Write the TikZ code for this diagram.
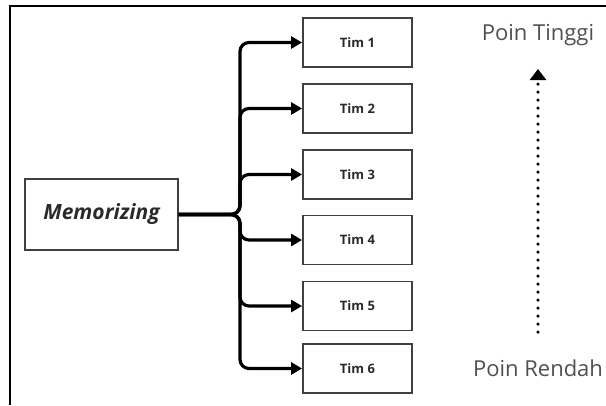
\documentclass[tikz,border=0pt]{standalone}
\usepackage{fontspec}
\setmainfont{Open Sans}
\usetikzlibrary{arrows.meta}
\definecolor{boxline}{HTML}{404040}
\definecolor{txt}{HTML}{2A2A2A}
\definecolor{soft}{HTML}{505050}
\tikzset{
  timbox/.style={draw=boxline, line width=1.8pt, minimum width=109pt, minimum height=49pt, inner sep=0pt, font=\fontsize{13}{15}\selectfont\bfseries, text=txt},
  membox/.style={draw=boxline, line width=1.8pt, minimum width=153pt, minimum height=71pt, inner sep=0pt, font=\fontsize{21}{24}\selectfont\bfseries\itshape, text=txt},
  branch/.style={line width=3.2pt, rounded corners=9pt, -{Triangle[length=11pt,width=12pt]}},
  poin/.style={font=\fontsize{22}{25}\selectfont, text=soft, inner sep=0pt},
  dotarrow/.style={line width=3.5pt, line cap=round, dash pattern=on 0pt off 8pt, -{Triangle[length=11pt,width=16pt]}}
}
\begin{document}
\begin{tikzpicture}[x=1pt,y=-1pt]
\useasboundingbox (0,0) rectangle (606,405);
% frame (only top and left edges visible)
\draw[line width=2.2pt] (606,6) -- (10,6) -- (10,405);
% nodes
\node[membox] (mem) at (101.5,214.5) {Memorizing};
\node[timbox] (t1) at (357.5,42.5) {Tim 1};
\node[timbox] (t2) at (357.5,108.5) {Tim 2};
\node[timbox] (t3) at (357.5,174.5) {Tim 3};
\node[timbox] (t4) at (357.5,240) {Tim 4};
\node[timbox] (t5) at (357.5,306) {Tim 5};
\node[timbox] (t6) at (357.5,368.5) {Tim 6};
\coordinate (trunk) at (240,214.5);
\foreach \t in {t1,t2,t3,t4,t5,t6}{
  \draw[branch] (mem.east) -- (trunk) |- (\t.west);
}
% scale
\node[poin] (hi) at (538,35) {Poin Tinggi};
\node[poin] (lo) at (538,368) {Poin Rendah};
\coordinate (dotbot) at (538,332);
\coordinate (dottop) at (538,69);
\draw[dotarrow] (dotbot) -- (dottop);
\end{tikzpicture}
\end{document}
